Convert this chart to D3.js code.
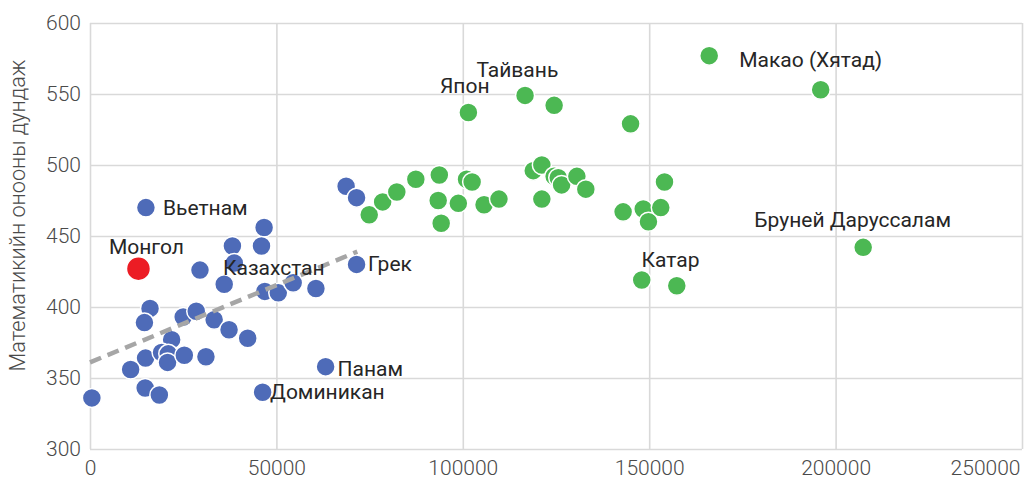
<!DOCTYPE html>
<html><head><meta charset="utf-8">
<script src="https://cdn.jsdelivr.net/npm/d3@7"></script>
<style>
html,body{margin:0;padding:0;background:#fff;}
svg{display:block;}
</style></head>
<body>
<svg id="chart" width="1026" height="478"></svg>
<script>
// ---- data ----
const xTicks = [0, 50000, 100000, 150000, 200000, 250000];
const yTicks = [300, 350, 400, 450, 500, 550, 600];
const yTitle = "Математикийн онооны дундаж";

// lower-income group (blue)
const blueX = [15000, 46700, 38200, 46000, 38700, 29500, 36000, 46900, 50500, 54500, 60600, 71500, 68700, 71500,
  16100, 14600, 25000, 28500, 33300, 37300, 42300, 21900, 14900, 19200, 21000, 20800, 25300, 31100, 10900, 14800, 18600, 500, 46300, 63200];
const blueY = [470, 456, 443, 443, 431, 426, 416, 411, 410, 417, 413, 430, 485, 477,
  399, 389, 393, 397, 391, 384, 378, 377, 364, 368, 367, 361, 366, 365, 356, 343, 338, 336, 340, 358];

// higher-income group (green)
const greenX = [74900, 78500, 82300, 87400, 93700, 93400, 94200, 98800, 101000, 102500, 105700, 109700, 101500, 116700, 124500,
  118900, 121200, 121200, 124500, 125600, 126500, 130600, 133000, 145000, 143000, 148400, 149800, 153100, 154100, 148000, 157400, 166100, 196000, 207400];
const greenY = [465, 474, 481, 490, 493, 475, 459, 473, 490, 488, 472, 476, 537, 549, 542,
  496, 500, 476, 492, 491, 486, 492, 483, 529, 467, 469, 460, 470, 488, 419, 415, 577, 553, 442];

// Mongolia (red)
const mongoliaX = [13000];
const mongoliaY = [427];

// trend line (blue group)
const trendX = [0, 71700];
const trendY = [361, 439];

// labels: text, series, index in series
const labelText   = ["Вьетнам", "Монгол", "Казахстан", "Грек", "Панам", "Доминикан", "Япон", "Тайвань", "Катар", "Макао (Хятад)", "Бруней Даруссалам"];
const labelSeries = ["blue", "red", "blue", "blue", "blue", "blue", "green", "green", "green", "green", "green"];
const labelIndex  = [0, 0, 5, 11, 33, 32, 12, 13, 29, 31, 33];

// ---- drawing ----
const svg = d3.select("#chart");
const x = d3.scaleLinear().domain([0, 250000]).range([90, 1022]);
const y = d3.scaleLinear().domain([300, 600]).range([449, 23]);

const gridColor = "#d9d9d9";
const font = "Roboto, 'Noto Sans', sans-serif";
const tickColor = "#4a4a4a";

// horizontal grid
svg.append("g")
  .attr("transform", "translate(90,0)")
  .call(d3.axisLeft(y).tickValues(yTicks).tickSize(-(1022 - 90)).tickFormat(""))
  .call(g => g.select(".domain").remove())
  .call(g => g.selectAll("line").attr("stroke", gridColor).attr("stroke-width", 1.6));

// vertical grid
svg.append("g")
  .attr("transform", "translate(0,449)")
  .call(d3.axisBottom(x).tickValues(xTicks).tickSize(-(449 - 23)).tickFormat(""))
  .call(g => g.select(".domain").remove())
  .call(g => g.selectAll("line").attr("stroke", gridColor).attr("stroke-width", 1.6));

// y tick labels
svg.append("g")
  .attr("transform", "translate(90,0)")
  .call(d3.axisLeft(y).tickValues(yTicks).tickSize(0).tickPadding(9).tickFormat(d3.format("d")))
  .call(g => g.select(".domain").remove())
  .call(g => g.selectAll("text").attr("font-family", font).attr("font-weight", 300)
    .attr("font-size", 21).attr("fill", tickColor));

// x tick labels
svg.append("g")
  .attr("transform", "translate(0,449)")
  .call(d3.axisBottom(x).tickValues(xTicks).tickSize(0).tickPadding(11).tickFormat(d3.format("d")))
  .call(g => g.select(".domain").remove())
  .call(g => g.selectAll("text").attr("font-family", font).attr("font-weight", 300)
    .attr("font-size", 21).attr("fill", tickColor))
  .call(g => g.selectAll(".tick").filter(d => d === xTicks[xTicks.length - 1])
    .select("text").attr("text-anchor", "end").attr("dx", -2));

// y title
svg.append("text")
  .attr("transform", "translate(25,215.5) rotate(-90)")
  .attr("text-anchor", "middle")
  .attr("font-family", font).attr("font-weight", 300)
  .attr("font-size", 21.7).attr("fill", tickColor)
  .text(yTitle);

function drawSeries(xs, ys, color, r) {
  svg.append("g").selectAll("circle")
    .data(xs.map((d, i) => [d, ys[i]]))
    .join("circle")
    .attr("cx", d => x(d[0])).attr("cy", d => y(d[1]))
    .attr("r", r).attr("fill", color)
    .attr("stroke", "#fff").attr("stroke-width", 1.5);
}
const colors = { blue: "#4e6bb8", green: "#4cb853", red: "#ec1c24" };
drawSeries(blueX, blueY, colors.blue, 9.5);
drawSeries(greenX, greenY, colors.green, 9.5);
drawSeries(mongoliaX, mongoliaY, colors.red, 12);

// trend line
svg.append("path")
  .datum(trendX.map((d, i) => [d, trendY[i]]))
  .attr("d", d3.line().x(d => x(d[0])).y(d => y(d[1])))
  .attr("fill", "none").attr("stroke", "#a6a6a6")
  .attr("stroke-width", 4.5).attr("stroke-dasharray", "12,7");

// labels
const seriesData = { blue: [blueX, blueY], green: [greenX, greenY], red: [mongoliaX, mongoliaY] };
const labelPlace = {
  "Вьетнам": [17, 0.5, "start"],
  "Монгол": [8, -21.6, "middle"],
  "Казахстан": [23, -2, "start"],
  "Грек": [11.5, -0.7, "start"],
  "Панам": [12, 1.6, "start"],
  "Доминикан": [7.5, -1, "start"],
  "Япон": [-3.6, -26.7, "middle"],
  "Тайвань": [-7.7, -25.7, "middle"],
  "Катар": [28.8, -20.7, "middle"],
  "Макао (Хятад)": [30, 4.3, "start"],
  "Бруней Даруссалам": [-10.5, -27.4, "middle"]
};
svg.append("g").selectAll("text")
  .data(labelText.map((t, i) => ({ t, s: labelSeries[i], k: labelIndex[i] })))
  .join("text")
  .attr("x", d => x(seriesData[d.s][0][d.k]) + labelPlace[d.t][0])
  .attr("y", d => y(seriesData[d.s][1][d.k]) + labelPlace[d.t][1])
  .attr("dy", "0.35em")
  .attr("text-anchor", d => labelPlace[d.t][2])
  .attr("font-family", font).attr("font-size", 21)
  .attr("fill", "#262626")
  .text(d => d.t);
</script>
</body></html>
